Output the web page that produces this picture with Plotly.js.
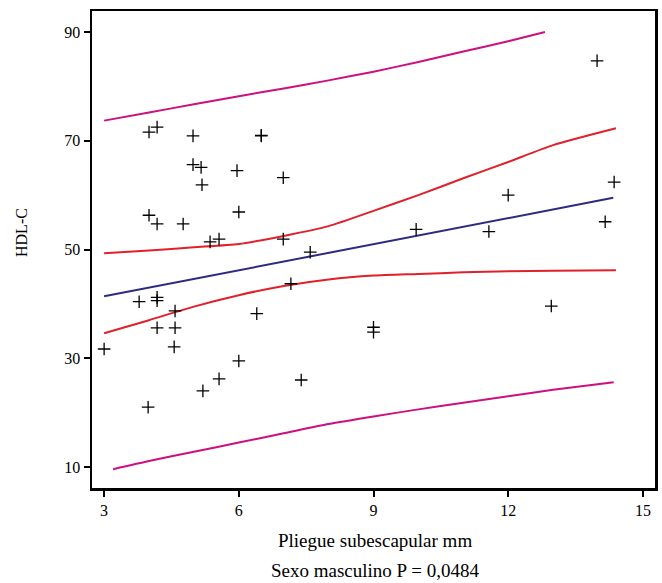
<!DOCTYPE html>
<html>
<head>
<meta charset="utf-8">
<script src="https://cdn.plot.ly/plotly-3.0.1.min.js"></script>
<style>html,body{margin:0;padding:0;background:#fff;}#chart{width:662px;height:583px;}</style>
</head>
<body>
<div id="chart"></div>
<script>
// Scatter data: skinfold (mm) vs HDL-C
const pointX = [3.0, 3.98, 4.0, 4.18, 4.0, 4.18, 4.18, 4.18, 4.18, 3.78, 4.58, 4.58, 4.56, 4.76, 4.98, 4.98, 5.16, 5.18, 5.36, 5.56, 5.2, 5.56, 5.96, 6.0, 6.0, 6.5, 6.5, 6.4, 6.99, 6.99, 7.16, 7.39, 7.59, 9.0, 9.0, 9.95, 11.57, 12.0, 12.96, 13.98, 14.16, 14.36];
const pointY = [31.7, 21.0, 71.6, 72.5, 56.3, 54.7, 35.6, 41.2, 40.6, 40.4, 38.7, 35.6, 32.1, 54.7, 70.9, 65.6, 65.1, 61.9, 51.4, 51.9, 24.0, 26.2, 64.5, 56.9, 29.5, 70.9, 71.0, 38.2, 63.2, 51.9, 43.7, 26.0, 49.5, 35.7, 34.8, 53.7, 53.3, 60.0, 39.6, 84.7, 55.1, 62.4];

// Regression line
const fitX = [3.0, 14.34];
const fitY = [41.4, 59.5];

// Inner confidence band
const ciX = [3.0, 4.0, 5.0, 6.0, 7.0, 8.0, 9.0, 10.0, 11.0, 12.0, 13.0, 14.4];
const ciUpper = [49.3, 49.8, 50.4, 51.0, 52.5, 54.3, 57.1, 60.0, 63.1, 66.1, 69.2, 72.3];
const ciLower = [34.6, 37.0, 39.5, 41.6, 43.3, 44.5, 45.2, 45.5, 45.8, 46.0, 46.1, 46.2];

// Outer prediction band
const piUpperX = [3.0, 4.0, 5.0, 6.0, 7.0, 8.0, 9.0, 10.0, 11.0, 12.0, 12.82];
const piUpper = [73.7, 75.2, 76.7, 78.2, 79.6, 81.1, 82.7, 84.5, 86.4, 88.3, 90.0];
const piLowerX = [3.2, 4.0, 5.0, 6.0, 7.0, 8.0, 9.0, 10.0, 11.0, 12.0, 13.0, 14.35];
const piLower = [9.6, 11.1, 12.8, 14.5, 16.2, 17.9, 19.3, 20.6, 21.8, 23.0, 24.2, 25.6];

const xTicks = [3, 6, 9, 12, 15];
const yTicks = [10, 30, 50, 70, 90];

const xTitle = 'Pliegue subescapular mm';
const subTitle = 'Sexo masculino P = 0,0484';
const yTitle = 'HDL-C';

const magenta = '#cc1080';
const red = '#e0202a';
const navy = '#2b2b82';

const traces = [
  {x: piUpperX, y: piUpper, mode: 'lines', line: {color: magenta, width: 2, shape: 'spline', smoothing: 0.6}, hoverinfo: 'skip'},
  {x: piLowerX, y: piLower, mode: 'lines', line: {color: magenta, width: 2, shape: 'spline', smoothing: 0.6}, hoverinfo: 'skip'},
  {x: ciX, y: ciUpper, mode: 'lines', line: {color: red, width: 2, shape: 'spline', smoothing: 0.6}, hoverinfo: 'skip'},
  {x: ciX, y: ciLower, mode: 'lines', line: {color: red, width: 2, shape: 'spline', smoothing: 0.6}, hoverinfo: 'skip'},
  {x: fitX, y: fitY, mode: 'lines', line: {color: navy, width: 2}, hoverinfo: 'skip'},
  {x: pointX, y: pointY, mode: 'markers', marker: {symbol: 'cross-thin-open', size: 9, color: '#000', line: {color: '#000', width: 1.3}}}
];

const fam = '"Liberation Serif", "Times New Roman", serif';

const layout = {
  width: 662, height: 583,
  margin: {l: 92, r: 7, t: 11, b: 95},
  paper_bgcolor: '#fff', plot_bgcolor: '#fff',
  showlegend: false,
  font: {family: fam, color: '#000', size: 16},
  xaxis: {
    range: [2.73, 15.27],
    tickvals: xTicks, ticktext: xTicks.map(String),
    ticks: 'outside', ticklen: 6, tickwidth: 2, tickcolor: '#000',
    showline: true, linecolor: '#000', linewidth: 2.5, mirror: true,
    showgrid: false, zeroline: false,
    tickfont: {family: fam, size: 16, color: '#000'}
  },
  yaxis: {
    range: [6.14, 93.86],
    tickvals: yTicks, ticktext: yTicks.map(String),
    ticks: 'outside', ticklen: 6, tickwidth: 2, tickcolor: '#000',
    showline: true, linecolor: '#000', linewidth: 2.5, mirror: true,
    showgrid: false, zeroline: false,
    tickfont: {family: fam, size: 16, color: '#000'}
  },
  annotations: [
    {text: xTitle, xref: 'paper', yref: 'paper', x: 0.503, y: -0.111, xanchor: 'center', yanchor: 'middle', showarrow: false, font: {family: fam, size: 19, color: '#000'}},
    {text: subTitle, xref: 'paper', yref: 'paper', x: 0.503, y: -0.172, xanchor: 'center', yanchor: 'middle', showarrow: false, font: {family: fam, size: 19, color: '#000'}},
    {text: yTitle, xref: 'paper', yref: 'paper', x: -0.124, y: 0.535, xanchor: 'center', yanchor: 'middle', textangle: -90, showarrow: false, font: {family: fam, size: 16, color: '#000'}}
  ]
};

Plotly.newPlot('chart', traces, layout, {displayModeBar: false, staticPlot: true});
</script>
</body>
</html>
